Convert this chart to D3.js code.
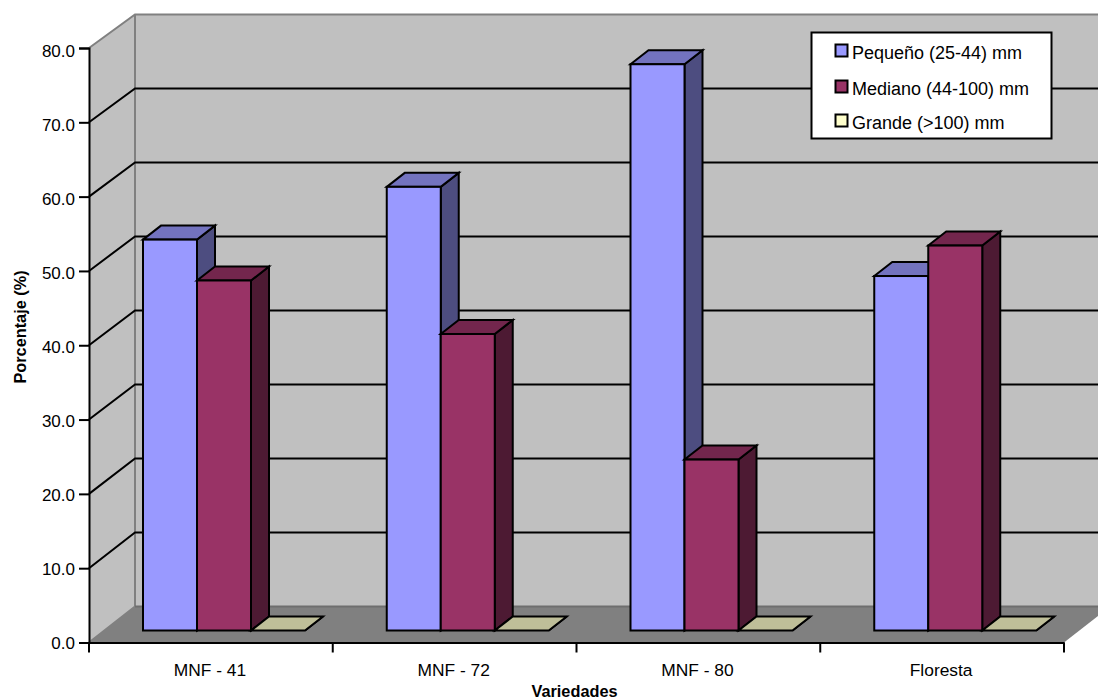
<!DOCTYPE html>
<html lang="es">
<head>
<meta charset="utf-8">
<title>Porcentaje por variedad</title>
<script src="https://cdn.jsdelivr.net/npm/d3@7"></script>
<style>
  html, body { margin: 0; padding: 0; background: #fff; }
  svg { display: block; }
  text { font-family: "Liberation Sans", Arial, sans-serif; fill: #000; }
</style>
</head>
<body>
<svg id="chart" width="1098" height="698"></svg>
<script>
// Data
const varieties = ["MNF - 41", "MNF - 72", "MNF - 80", "Floresta"];
const sizeClasses = ["Pequeño (25-44) mm", "Mediano (44-100) mm", "Grande (>100) mm"];
const pequeno = [52.6, 59.7, 76.2, 47.7];
const mediano = [47.1, 39.9, 23.0, 51.8];
const grande = [0, 0, 0, 0];
const classColors = ["#9999FF", "#993366", "#FFFFCC"];
const yTicks = [0, 10, 20, 30, 40, 50, 60, 70, 80];

const seriesValues = [pequeno, mediano, grande];

// Frame of the 3D box: front plane and back wall have slightly different spans
const frontLeft = 89, frontRight = 1064, frontBottom = 642.5, frontTop = 48;
const backLeft = 135, backBottom = 606.5, backTop = 14.5, backRight = 1110;
const pageRight = 1098;
const barBaseLift = 12, barInset = 54, barWidth = 54;
const cubeDX = 18, cubeDY = -14;
const labelDrop = frontBottom + 0.5 - backBottom;

const svg = d3.select("#chart");
const y = d3.scaleLinear().domain([0, 80]).range([frontBottom, frontTop]);
const yBack = d3.scaleLinear().domain([0, 80]).range([backBottom, backTop]);
const x = d3.scaleBand().domain(varieties).range([frontLeft, frontRight]);
const inner = d3.scaleBand().domain(d3.range(sizeClasses.length)).range([0, barWidth * sizeClasses.length]);

const poly = pts => pts.map(p => p.join(",")).join(" ");
const shade = (c, k) => { const r = d3.rgb(c); return d3.rgb(r.r * k, r.g * k, r.b * k).formatHex(); };

// Walls and floor
const bw = svg.append("g");
bw.append("polygon")
  .attr("points", poly([[frontLeft, y(80)], [backLeft, yBack(80)], [backLeft, yBack(0)], [frontLeft, y(0)]]))
  .attr("fill", "#C0C0C0");
bw.append("rect")
  .attr("x", backLeft).attr("y", yBack(80))
  .attr("width", pageRight - backLeft).attr("height", yBack(0) - yBack(80))
  .attr("fill", "#C0C0C0");
bw.append("polygon")
  .attr("points", poly([[frontLeft, y(0)], [backLeft, yBack(0)], [backRight, yBack(0)], [frontRight, y(0)]]))
  .attr("fill", "#808080");

// Wall edges
bw.append("path")
  .attr("d", `M${frontLeft},${y(80)}L${backLeft},${yBack(80)}H${pageRight}`
    + `M${backLeft},${yBack(80)}V${yBack(0)}L${frontLeft},${y(0)}`)
  .attr("fill", "none").attr("stroke", "#808080").attr("stroke-width", 2);
bw.append("path")
  .attr("d", `M${backLeft},${yBack(0)}H${pageRight}`)
  .attr("fill", "none").attr("stroke", "#6E6E6E").attr("stroke-width", 2);

// Gridlines run across the side wall, then along the back wall
svg.append("g").selectAll("path")
  .data(yTicks.filter(t => t > 0 && t < 80))
  .join("path")
  .attr("d", t => `M${frontLeft},${y(t)}L${backLeft},${yBack(t)}H${pageRight}`)
  .attr("fill", "none").attr("stroke", "#000").attr("stroke-width", 2);

// Axes
const yAxis = d3.axisLeft(y).tickValues(yTicks).tickFormat(d3.format(".1f")).tickSize(10).tickPadding(4);
const yG = svg.append("g").attr("transform", `translate(${frontLeft},0)`).call(yAxis);
const xAxis = d3.axisBottom(x).tickSize(0).tickPadding(21);
const xG = svg.append("g").attr("transform", `translate(0,${frontBottom})`).call(xAxis);
[yG, xG].forEach(g => {
  g.selectAll("path.domain").attr("stroke", "#000").attr("stroke-width", 2);
  g.selectAll("line").attr("stroke", "#000").attr("stroke-width", 2);
  g.selectAll("text").attr("font-size", 17).style("font-family", '"Liberation Sans", Arial, sans-serif').attr("fill", "#000");
});
xG.selectAll("text").attr("font-size", 17.4).attr("dx", -1);
// Value labels follow the back-wall spacing, drifting a little below their ticks
yG.selectAll(".tick text").attr("y", t => yBack(t) + labelDrop - y(t));
xG.append("g").selectAll("line")
  .data([...varieties.map(v => x(v)), frontRight])
  .join("line")
  .attr("x1", d => d).attr("x2", d => d).attr("y1", 0).attr("y2", 10)
  .attr("stroke", "#000").attr("stroke-width", 2);

// Boxes: front face, top and right side in lighter and darker tones
const boxes = varieties.flatMap((v, i) => seriesValues.map((vals, s) => ({
  x0: x(v) + barInset + inner(s), value: vals[i], color: classColors[s]
})));
const box = svg.append("g").selectAll("g").data(boxes).join("g")
  .attr("stroke", "#000").attr("stroke-width", 2).attr("stroke-linejoin", "miter");
const base = y(0) - barBaseLift;
const topOf = d => base - (y(0) - y(d.value));
box.append("polygon")
  .attr("points", d => poly([[d.x0 + barWidth, topOf(d)], [d.x0 + barWidth + cubeDX, topOf(d) + cubeDY], [d.x0 + barWidth + cubeDX, base + cubeDY], [d.x0 + barWidth, base]]))
  .attr("fill", d => shade(d.color, 0.5));
box.append("polygon")
  .attr("points", d => poly([[d.x0, topOf(d)], [d.x0 + cubeDX, topOf(d) + cubeDY], [d.x0 + barWidth + cubeDX, topOf(d) + cubeDY], [d.x0 + barWidth, topOf(d)]]))
  .attr("fill", d => shade(d.color, 0.75));
box.filter(d => d.value > 0).append("rect")
  .attr("x", d => d.x0).attr("y", topOf).attr("width", barWidth).attr("height", d => base - topOf(d))
  .attr("fill", d => d.color);

// Axis titles
svg.append("text").attr("x", 574.5).attr("y", 696.5).attr("text-anchor", "middle")
  .attr("font-size", 16.3).attr("font-weight", "bold").text("Variedades");
svg.append("text").attr("transform", "translate(26,327) rotate(-90)").attr("text-anchor", "middle")
  .attr("font-size", 16.3).attr("font-weight", "bold").text("Porcentaje (%)");

// Legend
const legend = svg.append("g");
legend.append("rect").attr("x", 811.5).attr("y", 32.5).attr("width", 240).attr("height", 106)
  .attr("fill", "#fff").attr("stroke", "#000").attr("stroke-width", 2);
const row = legend.selectAll("g.row").data(sizeClasses).join("g").attr("class", "row")
  .attr("transform", (d, i) => `translate(0,${[44.5, 80.5, 114.5][i]})`);
row.append("rect").attr("x", 835.5).attr("width", 12).attr("height", 12)
  .attr("fill", (d, i) => classColors[i]).attr("stroke", "#000").attr("stroke-width", 2);
row.append("text").attr("x", 852).attr("y", 14.5).attr("font-size", 18).text(d => d);
</script>
</body>
</html>
